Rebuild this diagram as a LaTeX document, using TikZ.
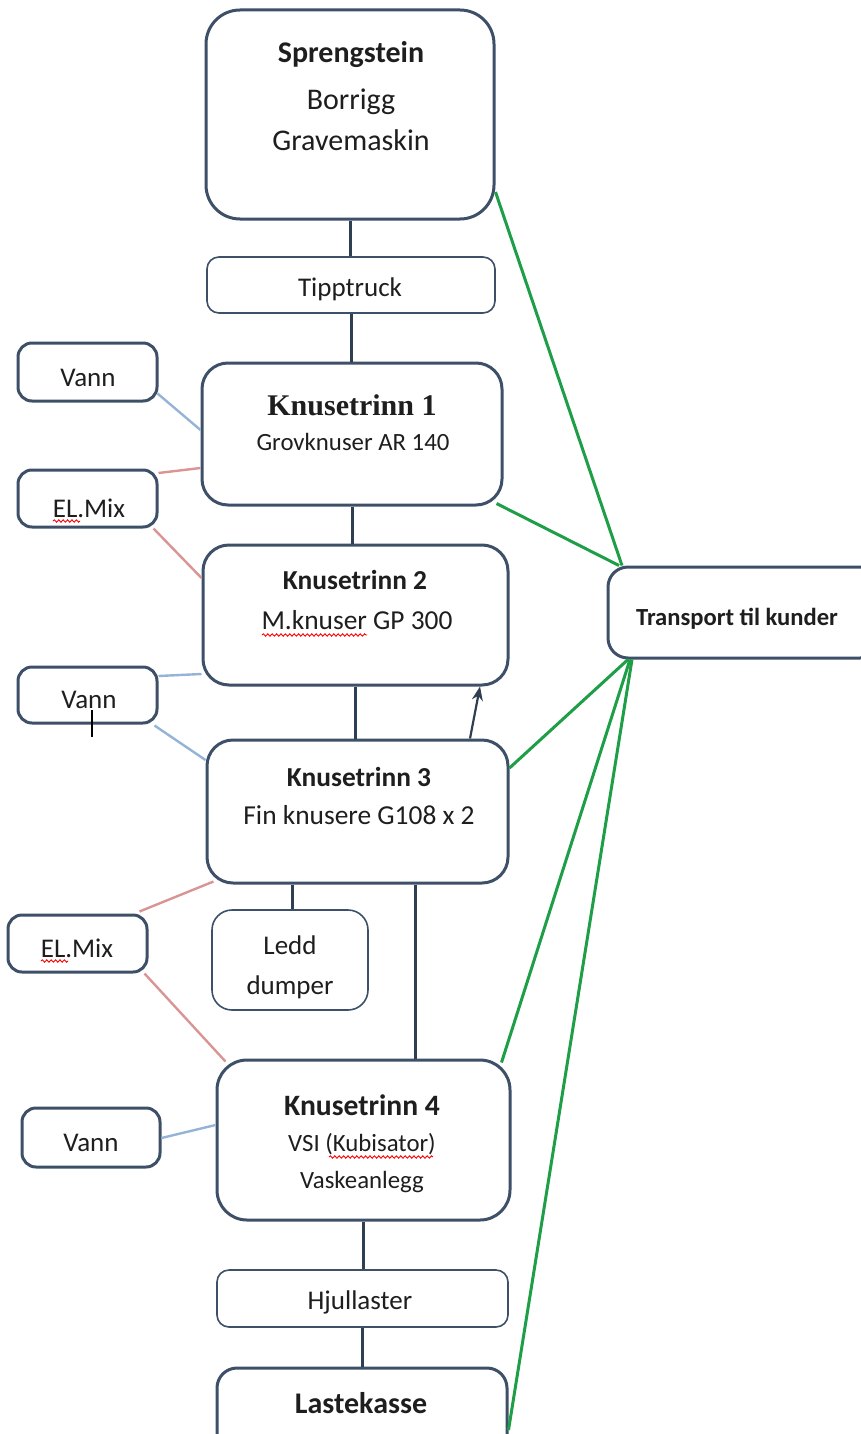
\documentclass[tikz,border=0pt]{standalone}
\usepackage{fontspec}
\setmainfont{Carlito}
\newfontfamily\timesfont{Liberation Serif}
\usetikzlibrary{fit,calc,arrows.meta,decorations.pathmorphing}
\definecolor{bord}{HTML}{3D5068}
\definecolor{darkc}{HTML}{2F3E52}
\definecolor{bluec}{HTML}{95B3D7}
\definecolor{redc}{HTML}{D99594}
\definecolor{greenc}{HTML}{1F9E48}
\definecolor{txtc}{HTML}{1E1E1E}
\begin{document}
\begin{tikzpicture}[x=0.5pt,y=-0.5pt,
  tbox/.style={draw=bord, line width=1.5pt, rounded corners=#1, inner sep=0pt, fill=white},
  tbox/.default=7pt,
  fbox/.style={draw=bord, line width=0.8pt, rounded corners=#1, inner sep=0pt, fill=white},
  fbox/.default=6pt,
  txt/.style={anchor=base, inner sep=0pt, text=txtc},
  flow/.style={draw=darkc, line width=1.5pt},
  water/.style={draw=bluec, line width=1.2pt},
  power/.style={draw=redc, line width=1.2pt},
  cust/.style={draw=greenc, line width=1.5pt},
  spell/.style={draw=red, line width=0.45pt, decorate, decoration={snake, amplitude=0.6pt, segment length=2.2pt}},
  fA/.style={font=\fontsize{15}{18}\selectfont},
  fAb/.style={font=\fontsize{15}{18}\selectfont\bfseries},
  fB/.style={font=\fontsize{13.5}{16}\selectfont},
  fC/.style={font=\fontsize{12.4}{15}\selectfont}
]
\useasboundingbox (0,0) rectangle (861,1434);
\clip (0,0) rectangle (861,1434);

% boxes
\node[tbox=17pt, fit={(206,10)(494,219)}] (spr) {};
\node[fbox, fit={(207,257)(495,313)}] (tip) {};
\node[tbox, fit={(18,343)(157,401)}] (vann1) {};
\node[tbox=13pt, fit={(202,363)(502,505)}] (k1) {};
\node[tbox, fit={(18,470)(157,527)}] (el1) {};
\node[tbox=13pt, fit={(203,545)(508,685)}] (k2) {};
\node[tbox, fit={(18,667)(157,723)}] (vann2) {};
\node[tbox=13pt, fit={(207,740)(508,883)}] (k3) {};
\node[fbox=10pt, fit={(212,910)(368,1010)}] (ledd) {};
\node[tbox, fit={(8,915)(147,972)}] (el2) {};
\node[tbox=15pt, fit={(217,1060)(510,1220)}] (k4) {};
\node[tbox, fit={(22,1108)(160,1167)}] (vann3) {};
\node[fbox, fit={(217,1270)(508,1327)}] (hjul) {};
\node[tbox=10pt, fit={(217,1368)(507,1470)}] (last) {};
\node[tbox=10pt, fit={(608,567)(880,658)}] (trans) {};

% texts
\node[txt, fAb] at (351,63) {Sprengstein};
\node[txt, fA] at (351,110) {Borrigg};
\node[txt, fA] at (351,150) {Gravemaskin};
\node[txt, fB] at (350,296) {Tipptruck};
\node[txt, fB] at (88,386) {Vann};
\node[txt, font=\timesfont\fontsize{15}{18}\selectfont\bfseries] at (352,415) {Knusetrinn 1};
\node[txt, fC] at (353,450) {Grovknuser AR 140};
\node[txt, fB] at (89,517) {EL.Mix};
\node[txt, font=\fontsize{13.7}{16}\selectfont\bfseries] at (355,589) {Knusetrinn 2};
\node[txt, font=\fontsize{13.7}{16}\selectfont] at (357,629) {M.knuser GP 300};
\node[txt, fB] at (89,708) {Vann};
\node[txt, font=\fontsize{13.7}{16}\selectfont\bfseries] at (359,786) {Knusetrinn 3};
\node[txt, font=\fontsize{13.7}{16}\selectfont] at (359,824) {Fin knusere G108 x 2};
\node[txt, fB] at (290,954) {Ledd};
\node[txt, fB] at (290,994) {dumper};
\node[txt, fB] at (77,957) {EL.Mix};
\node[txt, font=\fontsize{14.8}{18}\selectfont\bfseries] at (362,1115) {Knusetrinn 4};
\node[txt, fC] at (362,1151) {VSI (Kubisator)};
\node[txt, fC] at (362,1188) {Vaskeanlegg};
\node[txt, fB] at (91,1151) {Vann};
\node[txt, fB] at (360,1309) {Hjullaster};
\node[txt, fAb] at (361,1413) {Lastekasse};
\node[txt, font=\fontsize{12.3}{15}\selectfont\bfseries] at (737,625) {Transport til kunder};

% spelling marks and cursor
\draw[spell] (262,635) -- (367,635);
\draw[spell] (329,1157) -- (433,1157);
\draw[spell] (53,521) -- (80,521);
\draw[spell] (41,961) -- (68,961);
\draw[black, line width=0.6pt] (92,710) -- (92,737);

% main flow
\draw[flow] (spr.south) -- (spr.south |- tip.north);
\draw[flow] (tip.south) -- (tip.south |- k1.north);
\draw[flow] (k1.south) -- (k1.south |- k2.north);
\draw[flow] (k2.south) -- (k2.south |- k3.north);
\coordinate (c3l) at (292,0);
\draw[flow] (c3l |- k3.south) -- (c3l |- ledd.north);
\coordinate (c34) at (415,0);
\draw[flow] (c34 |- k3.south) -- (c34 |- k4.north);
\draw[flow] (k4.south) -- (k4.south |- hjul.north);
\draw[flow] (hjul.south) -- (hjul.south |- last.north);
\coordinate (a3) at (470,0);
\coordinate (a2) at (480,0);
\draw[draw=darkc, line width=1.1pt, -{Stealth[length=7pt,width=5.5pt]}] (a3 |- k3.north) -- (a2 |- k2.south);

% water
\draw[water] ($(vann1.south east)+(-1,-9)$) -- (k1.west |- 0,430);
\draw[water] (vann2.east |- 0,676) -- (k2.west |- 0,674);
\draw[water] ($(vann2.south east)+(-4,1)$) -- (k3.west |- 0,760);
\draw[water] (vann3.east |- 0,1138) -- (k4.west |- 0,1125);

% power
\draw[power] (el1.east |- 0,473) -- (k1.west |- 0,468);
\draw[power] ($(el1.south east)+(-5,0)$) -- (k2.west |- 0,578);
\draw[power] ($(el2.north east)+(-9,-2)$) -- ($(k3.south west)+(8,-3)$);
\draw[power] ($(el2.south east)+(-4,0)$) -- ($(k4.north west)+(10,3)$);

% customers
\draw[cust] (spr.east |- 0,192) -- (622,0 |- trans.north);
\draw[cust] ($(k1.south east)+(-7,-3)$) -- (619,0 |- trans.north);
\draw[cust] (k3.east |- 0,768) -- (628,0 |- trans.south);
\draw[cust] ($(k4.north east)+(-10,4)$) -- (630,0 |- trans.south);
\draw[cust] (last.east |- 0,1430) -- (632,0 |- trans.south);
\end{tikzpicture}
\end{document}
